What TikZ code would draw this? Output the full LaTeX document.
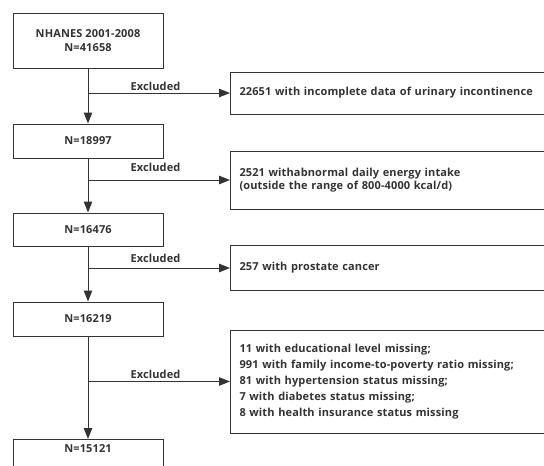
\documentclass[tikz,border=0pt]{standalone}
\usepackage{fontspec}
\setmainfont[LetterSpace=1.2]{Open Sans}
\usetikzlibrary{arrows.meta}
\definecolor{ln}{HTML}{333333}
\begin{document}
\begin{tikzpicture}[x=1pt,y=-1pt,
  every node/.style={font=\bfseries\fontsize{11}{13.5}\selectfont, text=ln},
  lbox/.style={draw=ln, line width=1pt, minimum width=150pt, align=center, inner sep=0pt},
  rbox/.style={draw=ln, line width=1pt, anchor=west, minimum width=340pt, text width=322pt, inner xsep=9pt, inner ysep=0pt, align=left},
  arr/.style={draw=ln, line width=1pt, -{Triangle[length=11pt,width=8.5pt]}},
  lbl/.style={inner sep=0pt}
]
\useasboundingbox (0,0) rectangle (544,466);
\clip (0,0) rectangle (544,466);

\node[lbox, minimum height=55pt] (n1) at (88,40.5) {NHANES 2001-2008\\N=41658};
\node[lbox, minimum height=34pt] (n2) at (88,141) {N=18997};
\node[lbox, minimum height=33pt] (n3) at (88,229.5) {N=16476};
\node[lbox, minimum height=34pt] (n4) at (88,319) {N=16219};
\node[lbox, anchor=north, text height=11pt, text depth=22pt, inner ysep=2pt] (n5) at (88,439) {N=15121};

\node[rbox, minimum height=42pt] (r1) at (230,93) {22651 with incomplete data of urinary incontinence};
\node[rbox, minimum height=58pt] (r2) at (230,180) {2521 withabnormal daily energy intake\\(outside the range of 800-4000 kcal/d)};
\node[rbox, minimum height=45pt] (r3) at (230,267.5) {257 with prostate cancer};
\node[rbox, minimum height=103pt, font=\bfseries\fontsize{11}{16}\selectfont] (r4) at (230,381.5) {11 with educational level missing;\\991 with family income-to-poverty ratio missing;\\81 with hypertension status missing;\\7 with diabetes status missing;\\8 with health insurance status missing};

\coordinate (j1) at (88,93);
\coordinate (j2) at (88,180);
\coordinate (j3) at (88,268);
\coordinate (j4) at (88,381.5);

\draw[arr] (n1) -- (n2);
\draw[arr] (n2) -- (n3);
\draw[arr] (n3) -- (n4);
\draw[arr] (n4) -- (n5);

\draw[arr] (j1) -- (r1.west);
\draw[arr] (j2) -- (r2.west);
\draw[arr] (j3) -- (r3.west |- j3);
\draw[arr] (j4) -- (r4.west);

\node[lbl] (e1) at (155.5,86) {Excluded};
\node[lbl] (e2) at (155.5,167) {Excluded};
\node[lbl] (e3) at (155.5,258) {Excluded};
\node[lbl] (e4) at (155.5,374) {Excluded};
\end{tikzpicture}
\end{document}
